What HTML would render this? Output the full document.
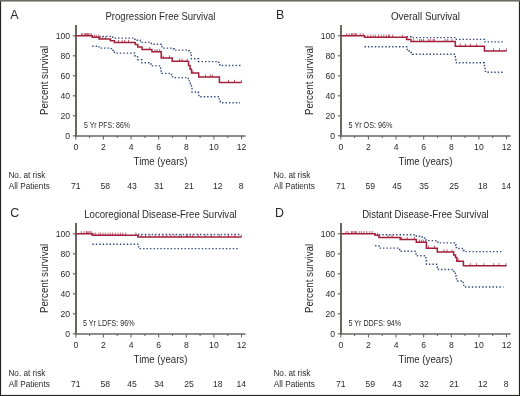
<!DOCTYPE html>
<html><head><meta charset="utf-8"><style>
html,body{margin:0;padding:0;background:#fff;}
svg{display:block;will-change:transform;}
</style></head><body>
<svg width="520" height="396" viewBox="0 0 520 396" font-family='"Liberation Sans", sans-serif' fill="#2a2a2a">
<rect x="0" y="0" width="520" height="396" fill="#fff"/>
<g transform="translate(0,0)">
<text x="10.30" y="18.70" font-size="12.40">A</text>
<text x="160.45" y="19.50" font-size="10.30" text-anchor="middle" textLength="110.00" lengthAdjust="spacingAndGlyphs">Progression Free Survival</text>
<text transform="translate(48,115.1) rotate(-90)" x="0" y="0" font-size="10.2" textLength="69.2" lengthAdjust="spacingAndGlyphs">Percent survival</text>
<text x="70.00" y="138.70" font-size="8.60" text-anchor="end">0</text>
<text x="70.00" y="118.70" font-size="8.60" text-anchor="end">20</text>
<text x="70.00" y="98.70" font-size="8.60" text-anchor="end">40</text>
<text x="70.00" y="78.70" font-size="8.60" text-anchor="end">60</text>
<text x="70.00" y="58.70" font-size="8.60" text-anchor="end">80</text>
<text x="70.00" y="38.70" font-size="8.60" text-anchor="end">100</text>
<text x="75.80" y="150.20" font-size="8.60" text-anchor="middle">0</text>
<text x="103.42" y="150.20" font-size="8.60" text-anchor="middle">2</text>
<text x="131.04" y="150.20" font-size="8.60" text-anchor="middle">4</text>
<text x="158.66" y="150.20" font-size="8.60" text-anchor="middle">6</text>
<text x="186.28" y="150.20" font-size="8.60" text-anchor="middle">8</text>
<text x="213.90" y="150.20" font-size="8.60" text-anchor="middle">10</text>
<text x="241.52" y="150.20" font-size="8.60" text-anchor="middle">12</text>
<text x="160.50" y="164.80" font-size="10.40" text-anchor="middle" textLength="53.80" lengthAdjust="spacingAndGlyphs">Time (years)</text>
<text x="84.00" y="128.00" font-size="8.20" textLength="46.00" lengthAdjust="spacingAndGlyphs">5 Yr PFS: 86%</text>
<text x="8.40" y="178.00" font-size="8.30" textLength="37.00" lengthAdjust="spacingAndGlyphs">No. at risk</text>
<text x="8.80" y="188.70" font-size="8.60" textLength="41.00" lengthAdjust="spacingAndGlyphs">All Patients</text>
<text x="75.80" y="188.90" font-size="8.60" text-anchor="middle">71</text>
<text x="105.30" y="188.90" font-size="8.60" text-anchor="middle">58</text>
<text x="132.10" y="188.90" font-size="8.60" text-anchor="middle">43</text>
<text x="159.10" y="188.90" font-size="8.60" text-anchor="middle">31</text>
<text x="189.00" y="188.90" font-size="8.60" text-anchor="middle">21</text>
<text x="217.80" y="188.90" font-size="8.60" text-anchor="middle">12</text>
<text x="241.20" y="188.90" font-size="8.60" text-anchor="middle">8</text>
<g stroke="#67675f" fill="none">
<line x1="76" y1="25" x2="76" y2="136.4" stroke-width="2"/>
<line x1="75" y1="135.95" x2="245.5" y2="135.95" stroke-width="1.55"/>
<line x1="72.8" y1="135.80" x2="76" y2="135.80" stroke-width="1.2"/>
<line x1="72.8" y1="115.80" x2="76" y2="115.80" stroke-width="1.2"/>
<line x1="72.8" y1="95.80" x2="76" y2="95.80" stroke-width="1.2"/>
<line x1="72.8" y1="75.80" x2="76" y2="75.80" stroke-width="1.2"/>
<line x1="72.8" y1="55.80" x2="76" y2="55.80" stroke-width="1.2"/>
<line x1="72.8" y1="35.80" x2="76" y2="35.80" stroke-width="1.2"/>
<line x1="75.80" y1="135.9" x2="75.80" y2="139.40" stroke-width="1.1"/>
<line x1="89.61" y1="135.9" x2="89.61" y2="137.90" stroke-width="1.1"/>
<line x1="103.42" y1="135.9" x2="103.42" y2="139.40" stroke-width="1.1"/>
<line x1="117.23" y1="135.9" x2="117.23" y2="137.90" stroke-width="1.1"/>
<line x1="131.04" y1="135.9" x2="131.04" y2="139.40" stroke-width="1.1"/>
<line x1="144.85" y1="135.9" x2="144.85" y2="137.90" stroke-width="1.1"/>
<line x1="158.66" y1="135.9" x2="158.66" y2="139.40" stroke-width="1.1"/>
<line x1="172.47" y1="135.9" x2="172.47" y2="137.90" stroke-width="1.1"/>
<line x1="186.28" y1="135.9" x2="186.28" y2="139.40" stroke-width="1.1"/>
<line x1="200.09" y1="135.9" x2="200.09" y2="137.90" stroke-width="1.1"/>
<line x1="213.90" y1="135.9" x2="213.90" y2="139.40" stroke-width="1.1"/>
<line x1="227.71" y1="135.9" x2="227.71" y2="137.90" stroke-width="1.1"/>
<line x1="241.52" y1="135.9" x2="241.52" y2="139.40" stroke-width="1.1"/>
</g>
<g stroke="#33487e" fill="none" stroke-width="1.4" stroke-dasharray="1.4 2.05">
<path d="M99.10 36.40 H110.40 V37.30 H114.40 V38.10 H134.80 V39.20 H137.30 V40.20 H140.30 V42.40 H151.30 V44.30 H161.00 V46.20 H161.80 V48.10 H173.30 V48.70 H174.30 V50.10 H187.50 V50.70 H189.30 V52.60 H190.60 V55.20 H191.40 V58.80 H198.60 V61.60 H218.80 V63.00 H219.80 V65.50 H241.00"/>
<path d="M92.20 46.20 H99.10 V48.10 H110.40 V48.60 H111.50 V50.40 H113.30 V51.50 H114.40 V53.10 H134.80 V55.80 H137.60 V59.70 H141.80 V62.80 H151.00 V64.30 H151.80 V65.90 H160.60 V68.30 H161.20 V71.60 H161.80 V73.40 H171.50 V74.80 H172.60 V77.60 H188.30 V80.00 H189.30 V83.00 H190.20 V85.50 H191.20 V88.50 H192.00 V92.00 H198.40 V93.50 H198.80 V96.80 H219.00 V98.30 H219.40 V101.30 H220.20 V102.70 H240.00"/>
</g>
<path d="M76.00 35.80 H92.20 V37.30 H99.10 V39.00 H110.40 V40.70 H114.40 V42.50 H135.20 V44.40 H137.80 V47.10 H142.00 V49.50 H151.90 V51.70 H161.20 V58.00 H172.20 V61.20 H188.50 V65.40 H190.10 V69.20 H191.50 V73.00 H198.70 V77.10 H219.40 V82.40 H241.60" stroke="#a11f3a" stroke-width="1.5" fill="none"/>
<path d="M81.50 35.80 V33.20 M82.90 35.80 V33.20 M84.70 35.80 V33.20 M85.50 35.80 V33.20 M86.70 35.80 V33.20 M87.50 35.80 V33.20 M88.40 35.80 V33.20 M89.80 35.80 V33.20 M91.30 35.80 V33.20 M94.50 37.30 V34.70 M96.20 37.30 V34.70 M98.20 37.30 V34.70 M100.20 39.00 V36.40 M102.60 39.00 V36.40 M105.50 39.00 V36.40 M118.50 42.50 V39.90 M122.20 42.50 V39.90 M124.80 42.50 V39.90 M128.50 42.50 V39.90 M149.60 49.50 V46.90 M155.20 51.70 V49.10 M157.20 51.70 V49.10 M159.70 51.70 V49.10 M163.20 58.00 V55.40 M169.30 58.00 V55.40 M179.60 61.20 V58.60 M182.10 61.20 V58.60 M187.20 61.20 V58.60 M192.90 73.00 V70.40 M205.50 77.10 V74.50 M210.30 77.10 V74.50 M212.30 77.10 V74.50 M228.50 82.40 V79.80 M234.50 82.40 V79.80 M241.40 82.40 V79.80 " stroke="#a11f3a" stroke-width="0.85" fill="none" opacity="0.85"/>
</g>
<g transform="translate(265,0)">
<text x="11.10" y="18.70" font-size="12.40">B</text>
<text x="160.45" y="19.50" font-size="10.30" text-anchor="middle" textLength="69.00" lengthAdjust="spacingAndGlyphs">Overall Survival</text>
<text transform="translate(48,115.1) rotate(-90)" x="0" y="0" font-size="10.2" textLength="69.2" lengthAdjust="spacingAndGlyphs">Percent survival</text>
<text x="70.00" y="138.70" font-size="8.60" text-anchor="end">0</text>
<text x="70.00" y="118.70" font-size="8.60" text-anchor="end">20</text>
<text x="70.00" y="98.70" font-size="8.60" text-anchor="end">40</text>
<text x="70.00" y="78.70" font-size="8.60" text-anchor="end">60</text>
<text x="70.00" y="58.70" font-size="8.60" text-anchor="end">80</text>
<text x="70.00" y="38.70" font-size="8.60" text-anchor="end">100</text>
<text x="75.80" y="150.20" font-size="8.60" text-anchor="middle">0</text>
<text x="103.42" y="150.20" font-size="8.60" text-anchor="middle">2</text>
<text x="131.04" y="150.20" font-size="8.60" text-anchor="middle">4</text>
<text x="158.66" y="150.20" font-size="8.60" text-anchor="middle">6</text>
<text x="186.28" y="150.20" font-size="8.60" text-anchor="middle">8</text>
<text x="213.90" y="150.20" font-size="8.60" text-anchor="middle">10</text>
<text x="241.52" y="150.20" font-size="8.60" text-anchor="middle">12</text>
<text x="160.50" y="164.80" font-size="10.40" text-anchor="middle" textLength="53.80" lengthAdjust="spacingAndGlyphs">Time (years)</text>
<text x="83.50" y="128.00" font-size="8.20" textLength="44.00" lengthAdjust="spacingAndGlyphs">5 Yr OS: 96%</text>
<text x="8.40" y="178.00" font-size="8.30" textLength="37.00" lengthAdjust="spacingAndGlyphs">No. at risk</text>
<text x="8.80" y="188.70" font-size="8.60" textLength="41.00" lengthAdjust="spacingAndGlyphs">All Patients</text>
<text x="75.80" y="188.90" font-size="8.60" text-anchor="middle">71</text>
<text x="105.30" y="188.90" font-size="8.60" text-anchor="middle">59</text>
<text x="132.10" y="188.90" font-size="8.60" text-anchor="middle">45</text>
<text x="159.10" y="188.90" font-size="8.60" text-anchor="middle">35</text>
<text x="189.00" y="188.90" font-size="8.60" text-anchor="middle">25</text>
<text x="217.80" y="188.90" font-size="8.60" text-anchor="middle">18</text>
<text x="241.20" y="188.90" font-size="8.60" text-anchor="middle">14</text>
<g stroke="#67675f" fill="none">
<line x1="76" y1="25" x2="76" y2="136.4" stroke-width="2"/>
<line x1="75" y1="135.95" x2="245.5" y2="135.95" stroke-width="1.55"/>
<line x1="72.8" y1="135.80" x2="76" y2="135.80" stroke-width="1.2"/>
<line x1="72.8" y1="115.80" x2="76" y2="115.80" stroke-width="1.2"/>
<line x1="72.8" y1="95.80" x2="76" y2="95.80" stroke-width="1.2"/>
<line x1="72.8" y1="75.80" x2="76" y2="75.80" stroke-width="1.2"/>
<line x1="72.8" y1="55.80" x2="76" y2="55.80" stroke-width="1.2"/>
<line x1="72.8" y1="35.80" x2="76" y2="35.80" stroke-width="1.2"/>
<line x1="75.80" y1="135.9" x2="75.80" y2="139.40" stroke-width="1.1"/>
<line x1="89.61" y1="135.9" x2="89.61" y2="137.90" stroke-width="1.1"/>
<line x1="103.42" y1="135.9" x2="103.42" y2="139.40" stroke-width="1.1"/>
<line x1="117.23" y1="135.9" x2="117.23" y2="137.90" stroke-width="1.1"/>
<line x1="131.04" y1="135.9" x2="131.04" y2="139.40" stroke-width="1.1"/>
<line x1="144.85" y1="135.9" x2="144.85" y2="137.90" stroke-width="1.1"/>
<line x1="158.66" y1="135.9" x2="158.66" y2="139.40" stroke-width="1.1"/>
<line x1="172.47" y1="135.9" x2="172.47" y2="137.90" stroke-width="1.1"/>
<line x1="186.28" y1="135.9" x2="186.28" y2="139.40" stroke-width="1.1"/>
<line x1="200.09" y1="135.9" x2="200.09" y2="137.90" stroke-width="1.1"/>
<line x1="213.90" y1="135.9" x2="213.90" y2="139.40" stroke-width="1.1"/>
<line x1="227.71" y1="135.9" x2="227.71" y2="137.90" stroke-width="1.1"/>
<line x1="241.52" y1="135.9" x2="241.52" y2="139.40" stroke-width="1.1"/>
</g>
<g stroke="#33487e" fill="none" stroke-width="1.4" stroke-dasharray="1.4 2.05">
<path d="M141.60 36.70 H146.00 V37.60 H190.60 V39.40 H219.60 V41.90 H239.50"/>
<path d="M99.50 46.80 H141.60 V49.50 H144.00 V51.00 H146.00 V52.50 H147.50 V54.20 H190.30 V57.50 H190.80 V60.50 H191.50 V62.80 H219.30 V63.50 H219.50 V67.00 H220.00 V70.00 H220.50 V72.20 H239.50"/>
</g>
<path d="M76.00 35.80 H99.50 V37.20 H141.60 V39.50 H146.00 V41.60 H190.30 V46.20 H219.40 V51.00 H241.40" stroke="#a11f3a" stroke-width="1.5" fill="none"/>
<path d="M81.70 35.80 V33.20 M84.10 35.80 V33.20 M86.50 35.80 V33.20 M87.80 35.80 V33.20 M89.20 35.80 V33.20 M90.50 35.80 V33.20 M91.80 35.80 V33.20 M95.20 35.80 V33.20 M98.10 35.80 V33.20 M102.90 37.20 V34.60 M105.80 37.20 V34.60 M108.20 37.20 V34.60 M110.60 37.20 V34.60 M113.50 37.20 V34.60 M116.30 37.20 V34.60 M118.80 37.20 V34.60 M121.20 37.20 V34.60 M123.60 37.20 V34.60 M124.30 37.20 V34.60 M127.70 37.20 V34.60 M137.30 37.20 V34.60 M148.80 41.60 V39.00 M154.60 41.60 V39.00 M156.50 41.60 V39.00 M158.50 41.60 V39.00 M163.30 41.60 V39.00 M165.20 41.60 V39.00 M168.10 41.60 V39.00 M169.40 41.60 V39.00 M180.20 41.60 V39.00 M182.70 41.60 V39.00 M187.10 41.60 V39.00 M195.30 46.20 V43.60 M200.40 46.20 V43.60 M205.40 46.20 V43.60 M211.70 46.20 V43.60 M228.50 51.00 V48.40 M234.50 51.00 V48.40 M241.40 51.00 V48.40 " stroke="#a11f3a" stroke-width="0.85" fill="none" opacity="0.85"/>
</g>
<g transform="translate(0,198)">
<text x="10.30" y="18.70" font-size="12.40">C</text>
<text x="160.45" y="19.50" font-size="10.30" text-anchor="middle" textLength="152.40" lengthAdjust="spacingAndGlyphs">Locoregional Disease-Free Survival</text>
<text transform="translate(48,115.1) rotate(-90)" x="0" y="0" font-size="10.2" textLength="69.2" lengthAdjust="spacingAndGlyphs">Percent survival</text>
<text x="70.00" y="138.70" font-size="8.60" text-anchor="end">0</text>
<text x="70.00" y="118.70" font-size="8.60" text-anchor="end">20</text>
<text x="70.00" y="98.70" font-size="8.60" text-anchor="end">40</text>
<text x="70.00" y="78.70" font-size="8.60" text-anchor="end">60</text>
<text x="70.00" y="58.70" font-size="8.60" text-anchor="end">80</text>
<text x="70.00" y="38.70" font-size="8.60" text-anchor="end">100</text>
<text x="75.80" y="150.20" font-size="8.60" text-anchor="middle">0</text>
<text x="103.42" y="150.20" font-size="8.60" text-anchor="middle">2</text>
<text x="131.04" y="150.20" font-size="8.60" text-anchor="middle">4</text>
<text x="158.66" y="150.20" font-size="8.60" text-anchor="middle">6</text>
<text x="186.28" y="150.20" font-size="8.60" text-anchor="middle">8</text>
<text x="213.90" y="150.20" font-size="8.60" text-anchor="middle">10</text>
<text x="241.52" y="150.20" font-size="8.60" text-anchor="middle">12</text>
<text x="160.50" y="164.80" font-size="10.40" text-anchor="middle" textLength="53.80" lengthAdjust="spacingAndGlyphs">Time (years)</text>
<text x="83.00" y="128.00" font-size="8.20" textLength="51.60" lengthAdjust="spacingAndGlyphs">5 Yr LDFS: 96%</text>
<text x="8.40" y="178.00" font-size="8.30" textLength="37.00" lengthAdjust="spacingAndGlyphs">No. at risk</text>
<text x="8.80" y="188.70" font-size="8.60" textLength="41.00" lengthAdjust="spacingAndGlyphs">All Patients</text>
<text x="75.80" y="188.90" font-size="8.60" text-anchor="middle">71</text>
<text x="105.30" y="188.90" font-size="8.60" text-anchor="middle">58</text>
<text x="132.10" y="188.90" font-size="8.60" text-anchor="middle">45</text>
<text x="159.10" y="188.90" font-size="8.60" text-anchor="middle">34</text>
<text x="189.00" y="188.90" font-size="8.60" text-anchor="middle">25</text>
<text x="217.80" y="188.90" font-size="8.60" text-anchor="middle">18</text>
<text x="241.20" y="188.90" font-size="8.60" text-anchor="middle">14</text>
<g stroke="#67675f" fill="none">
<line x1="76" y1="25" x2="76" y2="136.4" stroke-width="2"/>
<line x1="75" y1="135.95" x2="245.5" y2="135.95" stroke-width="1.55"/>
<line x1="72.8" y1="135.80" x2="76" y2="135.80" stroke-width="1.2"/>
<line x1="72.8" y1="115.80" x2="76" y2="115.80" stroke-width="1.2"/>
<line x1="72.8" y1="95.80" x2="76" y2="95.80" stroke-width="1.2"/>
<line x1="72.8" y1="75.80" x2="76" y2="75.80" stroke-width="1.2"/>
<line x1="72.8" y1="55.80" x2="76" y2="55.80" stroke-width="1.2"/>
<line x1="72.8" y1="35.80" x2="76" y2="35.80" stroke-width="1.2"/>
<line x1="75.80" y1="135.9" x2="75.80" y2="139.40" stroke-width="1.1"/>
<line x1="89.61" y1="135.9" x2="89.61" y2="137.90" stroke-width="1.1"/>
<line x1="103.42" y1="135.9" x2="103.42" y2="139.40" stroke-width="1.1"/>
<line x1="117.23" y1="135.9" x2="117.23" y2="137.90" stroke-width="1.1"/>
<line x1="131.04" y1="135.9" x2="131.04" y2="139.40" stroke-width="1.1"/>
<line x1="144.85" y1="135.9" x2="144.85" y2="137.90" stroke-width="1.1"/>
<line x1="158.66" y1="135.9" x2="158.66" y2="139.40" stroke-width="1.1"/>
<line x1="172.47" y1="135.9" x2="172.47" y2="137.90" stroke-width="1.1"/>
<line x1="186.28" y1="135.9" x2="186.28" y2="139.40" stroke-width="1.1"/>
<line x1="200.09" y1="135.9" x2="200.09" y2="137.90" stroke-width="1.1"/>
<line x1="213.90" y1="135.9" x2="213.90" y2="139.40" stroke-width="1.1"/>
<line x1="227.71" y1="135.9" x2="227.71" y2="137.90" stroke-width="1.1"/>
<line x1="241.52" y1="135.9" x2="241.52" y2="139.40" stroke-width="1.1"/>
</g>
<g stroke="#33487e" fill="none" stroke-width="1.4" stroke-dasharray="1.4 2.05">
<path d="M137.90 36.50 H239.60"/>
<path d="M92.30 46.20 H138.60 V50.60 H239.60"/>
</g>
<path d="M76.00 35.80 H92.20 V37.20 H137.90 V39.10 H241.40" stroke="#a11f3a" stroke-width="1.5" fill="none"/>
<path d="M81.30 35.80 V33.20 M84.10 35.80 V33.20 M86.40 35.80 V33.20 M87.60 35.80 V33.20 M88.80 35.80 V33.20 M90.00 35.80 V33.20 M91.20 35.80 V33.20 M93.80 37.20 V34.60 M95.70 37.20 V34.60 M98.80 37.20 V34.60 M100.70 37.20 V34.60 M103.00 37.20 V34.60 M105.30 37.20 V34.60 M108.00 37.20 V34.60 M110.30 37.20 V34.60 M112.60 37.20 V34.60 M115.30 37.20 V34.60 M118.00 37.20 V34.60 M120.30 37.20 V34.60 M122.60 37.20 V34.60 M125.70 37.20 V34.60 M135.90 37.20 V34.60 M141.20 39.10 V36.50 M145.50 39.10 V36.50 M150.00 39.10 V36.50 M155.00 39.10 V36.50 M159.00 39.10 V36.50 M163.00 39.10 V36.50 M167.00 39.10 V36.50 M171.00 39.10 V36.50 M175.00 39.10 V36.50 M179.20 39.10 V36.50 M181.50 39.10 V36.50 M186.20 39.10 V36.50 M187.30 39.10 V36.50 M190.00 39.10 V36.50 M192.70 39.10 V36.50 M198.50 39.10 V36.50 M205.40 39.10 V36.50 M211.50 39.10 V36.50 M219.30 39.10 V36.50 M228.40 39.10 V36.50 M234.80 39.10 V36.50 M241.30 39.10 V36.50 " stroke="#a11f3a" stroke-width="0.85" fill="none" opacity="0.85"/>
</g>
<g transform="translate(265,198)">
<text x="9.90" y="18.70" font-size="12.40">D</text>
<text x="160.45" y="19.50" font-size="10.30" text-anchor="middle" textLength="126.60" lengthAdjust="spacingAndGlyphs">Distant Disease-Free Survival</text>
<text transform="translate(48,115.1) rotate(-90)" x="0" y="0" font-size="10.2" textLength="69.2" lengthAdjust="spacingAndGlyphs">Percent survival</text>
<text x="70.00" y="138.70" font-size="8.60" text-anchor="end">0</text>
<text x="70.00" y="118.70" font-size="8.60" text-anchor="end">20</text>
<text x="70.00" y="98.70" font-size="8.60" text-anchor="end">40</text>
<text x="70.00" y="78.70" font-size="8.60" text-anchor="end">60</text>
<text x="70.00" y="58.70" font-size="8.60" text-anchor="end">80</text>
<text x="70.00" y="38.70" font-size="8.60" text-anchor="end">100</text>
<text x="75.80" y="150.20" font-size="8.60" text-anchor="middle">0</text>
<text x="103.42" y="150.20" font-size="8.60" text-anchor="middle">2</text>
<text x="131.04" y="150.20" font-size="8.60" text-anchor="middle">4</text>
<text x="158.66" y="150.20" font-size="8.60" text-anchor="middle">6</text>
<text x="186.28" y="150.20" font-size="8.60" text-anchor="middle">8</text>
<text x="213.90" y="150.20" font-size="8.60" text-anchor="middle">10</text>
<text x="241.52" y="150.20" font-size="8.60" text-anchor="middle">12</text>
<text x="160.50" y="164.80" font-size="10.40" text-anchor="middle" textLength="53.80" lengthAdjust="spacingAndGlyphs">Time (years)</text>
<text x="83.50" y="128.00" font-size="8.20" textLength="52.70" lengthAdjust="spacingAndGlyphs">5 Yr DDFS: 94%</text>
<text x="8.40" y="178.00" font-size="8.30" textLength="37.00" lengthAdjust="spacingAndGlyphs">No. at risk</text>
<text x="8.80" y="188.70" font-size="8.60" textLength="41.00" lengthAdjust="spacingAndGlyphs">All Patients</text>
<text x="75.80" y="188.90" font-size="8.60" text-anchor="middle">71</text>
<text x="105.30" y="188.90" font-size="8.60" text-anchor="middle">59</text>
<text x="132.10" y="188.90" font-size="8.60" text-anchor="middle">43</text>
<text x="159.10" y="188.90" font-size="8.60" text-anchor="middle">32</text>
<text x="189.00" y="188.90" font-size="8.60" text-anchor="middle">21</text>
<text x="217.80" y="188.90" font-size="8.60" text-anchor="middle">12</text>
<text x="241.20" y="188.90" font-size="8.60" text-anchor="middle">8</text>
<g stroke="#67675f" fill="none">
<line x1="76" y1="25" x2="76" y2="136.4" stroke-width="2"/>
<line x1="75" y1="135.95" x2="245.5" y2="135.95" stroke-width="1.55"/>
<line x1="72.8" y1="135.80" x2="76" y2="135.80" stroke-width="1.2"/>
<line x1="72.8" y1="115.80" x2="76" y2="115.80" stroke-width="1.2"/>
<line x1="72.8" y1="95.80" x2="76" y2="95.80" stroke-width="1.2"/>
<line x1="72.8" y1="75.80" x2="76" y2="75.80" stroke-width="1.2"/>
<line x1="72.8" y1="55.80" x2="76" y2="55.80" stroke-width="1.2"/>
<line x1="72.8" y1="35.80" x2="76" y2="35.80" stroke-width="1.2"/>
<line x1="75.80" y1="135.9" x2="75.80" y2="139.40" stroke-width="1.1"/>
<line x1="89.61" y1="135.9" x2="89.61" y2="137.90" stroke-width="1.1"/>
<line x1="103.42" y1="135.9" x2="103.42" y2="139.40" stroke-width="1.1"/>
<line x1="117.23" y1="135.9" x2="117.23" y2="137.90" stroke-width="1.1"/>
<line x1="131.04" y1="135.9" x2="131.04" y2="139.40" stroke-width="1.1"/>
<line x1="144.85" y1="135.9" x2="144.85" y2="137.90" stroke-width="1.1"/>
<line x1="158.66" y1="135.9" x2="158.66" y2="139.40" stroke-width="1.1"/>
<line x1="172.47" y1="135.9" x2="172.47" y2="137.90" stroke-width="1.1"/>
<line x1="186.28" y1="135.9" x2="186.28" y2="139.40" stroke-width="1.1"/>
<line x1="200.09" y1="135.9" x2="200.09" y2="137.90" stroke-width="1.1"/>
<line x1="213.90" y1="135.9" x2="213.90" y2="139.40" stroke-width="1.1"/>
<line x1="227.71" y1="135.9" x2="227.71" y2="137.90" stroke-width="1.1"/>
<line x1="241.52" y1="135.9" x2="241.52" y2="139.40" stroke-width="1.1"/>
</g>
<g stroke="#33487e" fill="none" stroke-width="1.4" stroke-dasharray="1.4 2.05">
<path d="M113.90 36.70 H151.30 V38.20 H154.50 V39.00 H158.50 V40.00 H161.20 V42.60 H172.40 V44.00 H173.80 V44.90 H189.50 V47.00 H191.20 V49.50 H192.50 V50.50 H198.20 V52.50 H199.20 V53.60 H236.50"/>
<path d="M110.10 47.70 H113.90 V50.10 H133.50 V51.50 H135.50 V53.30 H151.00 V56.50 H152.50 V57.80 H161.00 V60.00 H161.30 V63.00 H161.50 V66.30 H172.30 V69.50 H173.50 V71.50 H188.80 V74.00 H190.20 V78.00 H191.50 V82.50 H192.50 V83.00 H198.20 V86.00 H198.80 V89.00 H238.50"/>
</g>
<path d="M76.00 35.70 H110.10 V37.30 H113.90 V39.40 H135.20 V41.60 H151.30 V44.20 H161.40 V50.20 H172.30 V54.00 H188.70 V56.90 H190.50 V59.50 H191.80 V63.30 H198.40 V67.80 H241.50" stroke="#a11f3a" stroke-width="1.5" fill="none"/>
<path d="M81.20 35.70 V33.10 M83.10 35.70 V33.10 M86.50 35.70 V33.10 M87.80 35.70 V33.10 M89.20 35.70 V33.10 M90.50 35.70 V33.10 M91.80 35.70 V33.10 M94.70 35.70 V33.10 M96.60 35.70 V33.10 M99.00 35.70 V33.10 M101.90 35.70 V33.10 M104.80 35.70 V33.10 M107.20 35.70 V33.10 M112.50 37.30 V34.70 M123.00 39.40 V36.80 M127.10 39.40 V36.80 M136.70 41.60 V39.00 M142.20 41.60 V39.00 M149.30 41.60 V39.00 M154.30 44.20 V41.60 M156.30 44.20 V41.60 M158.30 44.20 V41.60 M160.40 44.20 V41.60 M163.40 50.20 V47.60 M169.40 50.20 V47.60 M178.90 54.00 V51.40 M182.00 54.00 V51.40 M187.10 54.00 V51.40 M193.40 63.30 V60.70 M205.30 67.80 V65.20 M211.50 67.80 V65.20 M218.80 67.80 V65.20 M228.60 67.80 V65.20 M233.90 67.80 V65.20 M240.90 67.80 V65.20 " stroke="#a11f3a" stroke-width="0.85" fill="none" opacity="0.85"/>
</g>
<rect x="0" y="0" width="1.1" height="396" fill="#262622"/>
<rect x="518.9" y="0" width="1.1" height="396" fill="#262622"/>
<rect x="0" y="394.9" width="520" height="1.1" fill="#262622"/>
<rect x="0" y="0" width="520" height="1.6" fill="#6e6e66"/>
</svg>
</body></html>
